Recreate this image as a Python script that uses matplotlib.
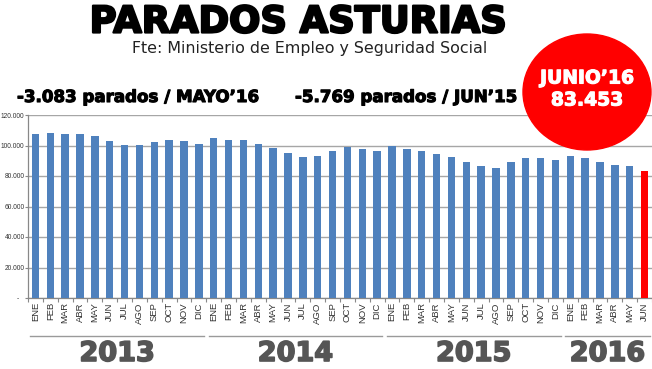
import matplotlib
matplotlib.use("Agg")
import matplotlib.pyplot as plt
import matplotlib.patheffects as pe
from matplotlib.patches import Ellipse
import numpy as np

months = ["ENE", "FEB", "MAR", "ABR", "MAY", "JUN", "JUL", "AGO", "SEP", "OCT", "NOV", "DIC"]
months_2016 = ["ENE", "FEB", "MAR", "ABR", "MAY", "JUN"]
years = ["2013", "2014", "2015", "2016"]

parados_2013 = [107400, 108000, 107400, 107400, 106300, 103100, 100200, 100200, 102200, 103700, 103100, 100700]
parados_2014 = [104800, 103500, 103500, 100700, 98500, 95200, 92400, 93000, 96300, 98700, 98000, 96500]
parados_2015 = [100000, 98000, 96500, 94100, 92400, 89222, 86500, 85200, 89100, 92000, 92000, 90200]
parados_2016 = [92800, 92000, 89500, 87400, 86536, 83453]

y_ticks = [0, 20000, 40000, 60000, 80000, 100000, 120000]

title = "PARADOS ASTURIAS"
subtitle = "Fte: Ministerio de Empleo y Seguridad Social"
note_left = "-3.083 parados / MAYO\u201916"
note_right = "-5.769 parados / JUN\u201915"
badge_line1 = "JUNIO\u201916"
badge_line2 = "83.453"

values = parados_2013 + parados_2014 + parados_2015 + parados_2016
labels = months * 3 + months_2016
group_sizes = [len(parados_2013), len(parados_2014), len(parados_2015), len(parados_2016)]

W, H = 652, 369
fig = plt.figure(figsize=(W / 100, H / 100), dpi=100)
fig.patch.set_facecolor("white")

def px(x, y):
    return x / W, 1 - y / H

def heavy(color, lw=1.0):
    return [pe.withStroke(linewidth=lw, foreground=color)]

ax_left, ax_right, ax_top, ax_bottom = 28, 652, 115, 298
ax = fig.add_axes([ax_left / W, 1 - ax_bottom / H, (ax_right - ax_left) / W, (ax_bottom - ax_top) / H])

x = np.arange(len(values))
colors = ["#4F81BD"] * (len(values) - 1) + ["#FF0000"]
ax.bar(x, values, width=0.5, color=colors, zorder=3)

ax.set_xlim(-0.5, len(values) - 0.5)
ax.set_ylim(0, 120000)
ax.set_yticks(y_ticks)
ax.set_yticklabels(["-   " if v == 0 else f"{v:,}".replace(",", ".") for v in y_ticks],
                   fontsize=4.8, color="#333333", family="Liberation Sans")
ax.yaxis.grid(True, color="#A6A6A6", linewidth=1.0, zorder=0)
ax.tick_params(axis="y", length=2, width=0.8, color="#888888", pad=0.5)

ax.set_xticks(x)
ax.set_xticklabels(labels, rotation=90, fontsize=6.8, color="#333333", family="Liberation Sans")
ax.tick_params(axis="x", which="major", length=0, pad=3)
ax.set_xticks(np.arange(-0.5, len(values), 1), minor=True)
ax.tick_params(axis="x", which="minor", length=3, width=0.8, color="#888888")

for s in ["top", "right"]:
    ax.spines[s].set_visible(False)
for s in ["left", "bottom"]:
    ax.spines[s].set_color("#888888")
    ax.spines[s].set_linewidth(0.9)

# year group lines and labels
trans = ax.get_xaxis_transform()
start = 0
sep_y = 1 - (336 - ax_top) / (ax_bottom - ax_top)
lab_y = 1 - (354 - ax_top) / (ax_bottom - ax_top)
for yr, n in zip(years, group_sizes):
    x0, x1 = start - 0.5, start + n - 0.5
    ax.plot([x0 + 0.15, x1 - 0.15], [sep_y, sep_y], transform=trans, color="#9A9A9A",
            linewidth=1.0, clip_on=False)
    ax.text((x0 + x1) / 2, lab_y, yr, transform=trans, ha="center", va="center",
            fontsize=19.5, fontweight="bold", family="DejaVu Sans", color="#555555",
            clip_on=False, path_effects=heavy("#555555", 1.2))
    start += n

# Titles
fig.text(*px(298, 22), title, ha="center", va="center", fontsize=26.5, fontweight="bold",
         family="DejaVu Sans", color="black", path_effects=heavy("black", 1.6))
fig.text(*px(310, 49), subtitle, ha="center", va="center", fontsize=11.4, family="DejaVu Sans",
         color="#222222")
fig.text(*px(17, 97), note_left, ha="left", va="center", fontsize=12, fontweight="bold",
         family="DejaVu Sans", color="black", path_effects=heavy("black", 0.8))
fig.text(*px(295, 97), note_right, ha="left", va="center", fontsize=12, fontweight="bold",
         family="DejaVu Sans", color="black", path_effects=heavy("black", 0.8))

# Red badge
badge_ax = fig.add_axes([0, 0, 1, 1], facecolor="none")
badge_ax.set_xlim(0, W)
badge_ax.set_ylim(H, 0)
badge_ax.axis("off")
badge_ax.add_patch(Ellipse((587, 92), 128, 116, color="#FF0000", zorder=5))
badge_ax.text(587, 78, badge_line1, ha="center", va="center", fontsize=13.5, fontweight="bold",
              family="DejaVu Sans", color="white", zorder=6, path_effects=heavy("white", 0.8))
badge_ax.text(587, 100, badge_line2, ha="center", va="center", fontsize=13.5, fontweight="bold",
              family="DejaVu Sans", color="white", zorder=6, path_effects=heavy("white", 0.8))

fig.savefig("out.png", dpi=100)
